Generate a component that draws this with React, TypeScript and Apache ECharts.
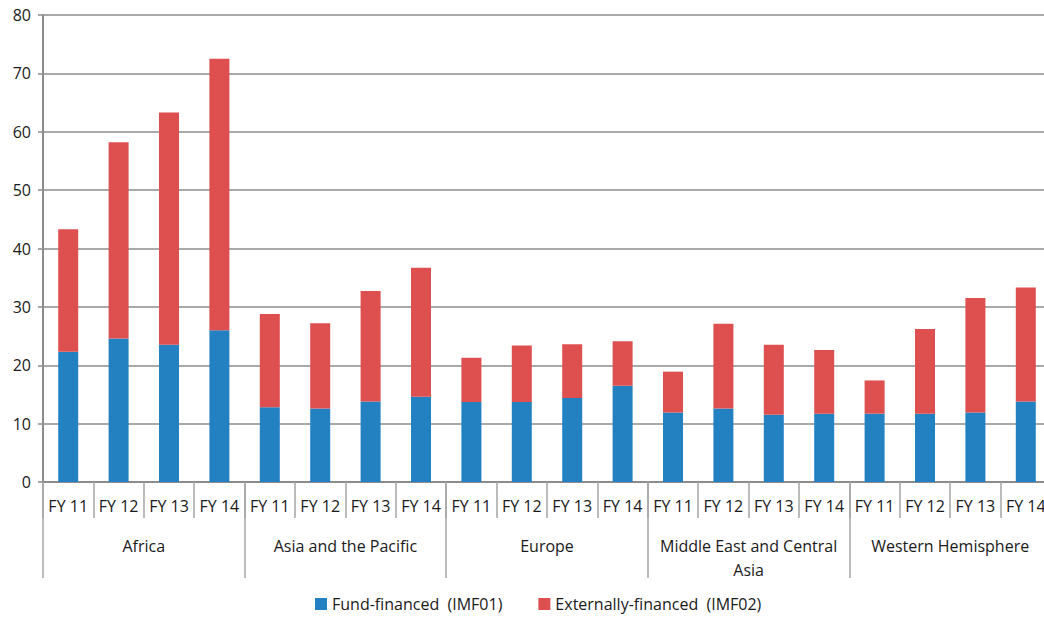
import React, { useEffect, useRef } from "react";
import * as echarts from "echarts";

// Regions and fiscal years on the two-level category axis
const regions = [
  "Africa",
  "Asia and the Pacific",
  "Europe",
  "Middle East and Central\nAsia",
  "Western Hemisphere",
];
const years = ["FY 11", "FY 12", "FY 13", "FY 14"];

// Fund-financed (IMF01), in region/year order
const fundFinanced = [
  22.3, 24.6, 23.5, 26.0,
  12.8, 12.6, 13.8, 14.6,
  13.7, 13.7, 14.4, 16.5,
  11.9, 12.6, 11.5, 11.7,
  11.7, 11.7, 11.9, 13.8,
];

// Externally-financed (IMF02), in region/year order
const externallyFinanced = [
  21.0, 33.6, 39.8, 46.5,
  16.0, 14.6, 18.9, 22.1,
  7.6, 9.7, 9.2, 7.6,
  7.0, 14.5, 12.0, 10.9,
  5.7, 14.5, 19.6, 19.5,
];

const yTicks = [0, 10, 20, 30, 40, 50, 60, 70, 80];

const FONT = "'Open Sans', 'DejaVu Sans', sans-serif";
const TEXT = "#1a1a1a";
const LINE = "#8c8c8c";
const FS = 16;

export default function App() {
  const ref = useRef<HTMLDivElement>(null);

  useEffect(() => {
    if (!ref.current) return;
    const chart = echarts.init(ref.current, undefined, { renderer: "svg" });

    const fyCategories = regions.flatMap(() => years);

    chart.setOption({
      animation: false,
      textStyle: { fontFamily: FONT },
      // the plot runs a few pixels past the right edge of the visible frame
      grid: { left: 43, right: 0, top: 15, bottom: 136, containLabel: false },
      legend: {
        bottom: 1,
        left: 310,
        itemWidth: 12,
        itemHeight: 12,
        itemGap: 36,
        icon: "rect",
        textStyle: { fontFamily: FONT, fontSize: FS, color: TEXT },
        data: ["Fund-financed  (IMF01)", "Externally-financed  (IMF02)"],
      },
      xAxis: [
        {
          type: "category",
          data: fyCategories,
          position: "bottom",
          axisLine: { show: true, lineStyle: { color: LINE, width: 2 } },
          axisTick: {
            show: true,
            length: 36,
            interval: 0,
            lineStyle: { color: "#a6a6a6", width: 1.5 },
          },
          axisLabel: {
            interval: 0,
            margin: 16,
            fontFamily: FONT,
            fontSize: FS,
            color: TEXT,
          },
        },
        {
          type: "category",
          data: regions,
          position: "bottom",
          axisLine: { show: false },
          axisTick: {
            show: true,
            length: 96,
            interval: 0,
            lineStyle: { color: "#a6a6a6", width: 1.5 },
          },
          axisLabel: {
            interval: 0,
            margin: 52,
            fontFamily: FONT,
            fontSize: FS,
            lineHeight: 24,
            color: TEXT,
            verticalAlign: "top",
          },
        },
      ],
      yAxis: {
        type: "value",
        min: yTicks[0],
        max: yTicks[yTicks.length - 1],
        interval: 10,
        axisLine: { show: true, lineStyle: { color: LINE, width: 2 } },
        axisTick: { show: true, length: 5, lineStyle: { color: LINE, width: 1.5 } },
        axisLabel: { margin: 12, fontFamily: FONT, fontSize: FS, color: TEXT },
        splitLine: { show: true, lineStyle: { color: LINE, width: 1.5 } },
      },
      series: [
        {
          name: "Fund-financed  (IMF01)",
          type: "bar",
          stack: "total",
          xAxisIndex: 0,
          barWidth: 20,
          data: fundFinanced,
          itemStyle: { color: "#2381c2" },
        },
        {
          name: "Externally-financed  (IMF02)",
          type: "bar",
          stack: "total",
          xAxisIndex: 0,
          barWidth: 20,
          data: externallyFinanced,
          itemStyle: { color: "#de4f4f" },
        },
      ],
    });

    return () => chart.dispose();
  }, []);

  return (
    <div
      style={{
        position: "fixed",
        left: 0,
        top: 0,
        width: 1044,
        height: 618,
        overflow: "hidden",
        background: "#fff",
      }}
    >
      <div ref={ref} style={{ width: 1051, height: 618 }} />
    </div>
  );
}
